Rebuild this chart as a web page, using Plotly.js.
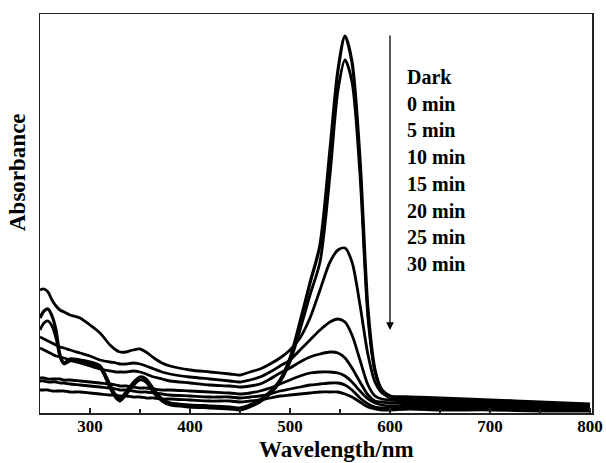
<!DOCTYPE html>
<html>
<head>
<meta charset="utf-8">
<script src="https://cdn.plot.ly/plotly-3.0.1.min.js"></script>
<style>html,body{margin:0;padding:0;background:#fff;}#chart{width:606px;height:463px;}</style>
</head>
<body>
<div id="chart"></div>
<script>
// Wavelength grid (nm)
const wavelength = [250,254,258,262,266,270,274,280,290,300,310,320,326,330,336,343,350,356,364,372,380,400,420,440,450,460,470,480,490,500,510,520,530,540,548,555,562,570,578,585,592,600,620,650,700,750,800];

// Absorbance series (a.u.)
const absDark = [0.095,0.102,0.104,0.097,0.083,0.058,0.050,0.054,0.053,0.051,0.047,0.028,0.017,0.014,0.021,0.030,0.036,0.034,0.023,0.014,0.010,0.008,0.007,0.006,0.005,0.008,0.013,0.021,0.033,0.055,0.091,0.130,0.168,0.263,0.343,0.377,0.351,0.253,0.103,0.043,0.023,0.017,0.016,0.015,0.013,0.011,0.009];
const abs0 = [0.083,0.090,0.092,0.087,0.075,0.056,0.049,0.052,0.051,0.049,0.045,0.025,0.015,0.012,0.018,0.027,0.033,0.031,0.020,0.012,0.008,0.006,0.005,0.004,0.003,0.006,0.011,0.019,0.031,0.051,0.083,0.118,0.151,0.238,0.323,0.353,0.331,0.238,0.095,0.041,0.022,0.015,0.015,0.014,0.012,0.010,0.008];
const abs5 = [0.123,0.124,0.121,0.113,0.107,0.103,0.101,0.098,0.095,0.088,0.080,0.068,0.063,0.061,0.061,0.063,0.064,0.061,0.055,0.050,0.047,0.043,0.041,0.039,0.038,0.041,0.044,0.049,0.055,0.063,0.075,0.095,0.123,0.151,0.163,0.165,0.151,0.108,0.058,0.031,0.020,0.016,0.014,0.013,0.011,0.009,0.007];
const abs10 = [0.076,0.074,0.072,0.070,0.068,0.066,0.065,0.063,0.060,0.057,0.053,0.051,0.050,0.049,0.049,0.050,0.049,0.047,0.044,0.041,0.039,0.036,0.034,0.032,0.031,0.033,0.036,0.041,0.047,0.053,0.063,0.073,0.083,0.091,0.094,0.091,0.078,0.053,0.028,0.017,0.014,0.013,0.012,0.011,0.009,0.008,0.006];
const abs15 = [0.065,0.063,0.061,0.059,0.057,0.056,0.055,0.053,0.050,0.047,0.044,0.042,0.041,0.041,0.041,0.042,0.041,0.039,0.036,0.034,0.032,0.030,0.028,0.027,0.026,0.027,0.029,0.034,0.040,0.045,0.051,0.056,0.059,0.061,0.060,0.055,0.045,0.031,0.018,0.012,0.011,0.010,0.010,0.009,0.008,0.006,0.005];
const abs20 = [0.035,0.035,0.034,0.034,0.034,0.034,0.033,0.033,0.032,0.031,0.030,0.029,0.028,0.027,0.027,0.026,0.025,0.025,0.024,0.023,0.023,0.022,0.021,0.020,0.019,0.020,0.022,0.025,0.029,0.033,0.037,0.040,0.041,0.041,0.040,0.037,0.031,0.022,0.014,0.010,0.008,0.007,0.008,0.007,0.006,0.005,0.004];
const abs25 = [0.032,0.032,0.031,0.031,0.031,0.030,0.030,0.029,0.028,0.027,0.026,0.025,0.024,0.023,0.023,0.022,0.021,0.021,0.020,0.019,0.018,0.017,0.016,0.016,0.015,0.016,0.017,0.019,0.022,0.024,0.026,0.028,0.029,0.030,0.030,0.028,0.023,0.015,0.009,0.006,0.005,0.005,0.006,0.005,0.004,0.003,0.003];
const abs30 = [0.023,0.023,0.023,0.022,0.022,0.022,0.022,0.021,0.021,0.020,0.019,0.018,0.018,0.017,0.017,0.016,0.016,0.015,0.015,0.014,0.014,0.013,0.012,0.012,0.011,0.012,0.013,0.015,0.017,0.018,0.019,0.020,0.021,0.021,0.021,0.019,0.016,0.011,0.006,0.004,0.003,0.003,0.004,0.003,0.003,0.002,0.002];

const seriesNames = ["Dark","0 min","5 min","10 min","15 min","20 min","25 min","30 min"];
const seriesValues = [absDark, abs0, abs5, abs10, abs15, abs20, abs25, abs30];
const tickValues = [300,400,500,600,700,800];

const serif = "Liberation Serif, Times New Roman, serif";

const traces = seriesValues.map((v, i) => ({
  x: wavelength, y: v, type: "scatter", mode: "lines", name: seriesNames[i],
  line: {color: "#000", width: i === 0 ? 3.2 : 2.8, shape: "spline", smoothing: 0.8},
  hoverinfo: "skip"
}));

const annotations = seriesNames.map((n, i) => ({
  x: 615, y: 0.336 - i * 0.0267, xref: "x", yref: "y",
  text: "<b>" + n + "</b>", showarrow: false, xanchor: "left", yanchor: "middle",
  font: {family: serif, size: 20, color: "#000"}
}));
annotations.push({
  x: 600, y: 0.083, xref: "x", yref: "y", ax: 600, ay: 0.379, axref: "x", ayref: "y",
  text: "", showarrow: true, arrowhead: 2, arrowsize: 1.2, arrowwidth: 1.3, arrowcolor: "#000"
});
annotations.push({
  x: -0.0417, y: 0.604, xref: "paper", yref: "paper", text: "<b>Absorbance</b>",
  textangle: -90, showarrow: false, xanchor: "center", yanchor: "middle",
  font: {family: serif, size: 23, color: "#000"}
});
annotations.push({
  x: 0.538, y: -0.0927, xref: "paper", yref: "paper", text: "<b>Wavelength/nm</b>",
  showarrow: false, xanchor: "center", yanchor: "middle",
  font: {family: serif, size: 23, color: "#000"}
});

const layout = {
  width: 606, height: 463,
  margin: {l: 40, r: 14, t: 14, b: 50},
  paper_bgcolor: "#fff", plot_bgcolor: "#fff",
  showlegend: false,
  xaxis: {
    range: [250, 802], showgrid: false, zeroline: false,
    showline: true, mirror: true, linecolor: "#222", linewidth: 1.5,
    tickmode: "array", tickvals: tickValues, ticks: "inside", ticklen: 5, tickwidth: 1.2, tickcolor: "#222",
    ticklabelstandoff: -3,
    minor: {dtick: 50, ticks: "inside", ticklen: 4, tickwidth: 1.2, tickcolor: "#222"},
    tickfont: {family: serif, size: 17, color: "#000", weight: "bold"}
  },
  yaxis: {
    range: [0, 0.399], showgrid: false, zeroline: false, showticklabels: false,
    showline: true, mirror: true, linecolor: "#222", linewidth: 1.5, ticks: ""
  },
  annotations: annotations
};

Plotly.newPlot("chart", traces, layout, {staticPlot: true, displayModeBar: false});
</script>
</body>
</html>
